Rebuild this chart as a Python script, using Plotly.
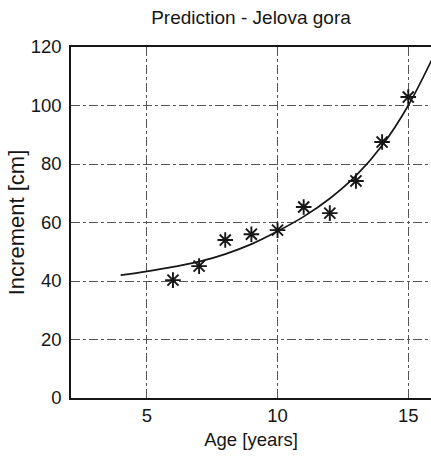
import plotly.graph_objects as go

# Measured increments by tree age
age = [6, 7, 8, 9, 10, 11, 12, 13, 14, 15]
increment = [40.3, 45.1, 54.0, 56.0, 57.4, 65.3, 63.2, 74.2, 87.5, 102.9]

# Predicted increment curve
pred_age = [4, 5, 6, 7, 8, 9, 10, 11, 12, 13, 14, 15, 16]
pred_increment = [42.0, 43.3, 44.8, 46.6, 49.2, 52.6, 57.0, 62.0, 68.2, 76.0, 86.3, 100.0, 117.5]

x_ticks = [5, 10, 15]
y_ticks = [0, 20, 40, 60, 80, 100, 120]

font_family = "Liberation Sans, Arial, sans-serif"
ink = "#161616"

fig = go.Figure()

fig.add_trace(go.Scatter(
    x=pred_age, y=pred_increment, mode="lines",
    line=dict(color=ink, width=1.7, shape="spline", smoothing=1.0),
    showlegend=False,
))

fig.add_trace(go.Scatter(
    x=age, y=increment, mode="markers",
    marker=dict(symbol="asterisk-open", size=13, color=ink,
                line=dict(color=ink, width=1.9)),
    showlegend=False,
))

fig.update_layout(
    width=431, height=458,
    margin=dict(l=71, r=0, t=47, b=60),
    paper_bgcolor="white", plot_bgcolor="white",
    font=dict(family=font_family, color=ink),
    title=dict(text="Prediction - Jelova gora", x=251 / 431, xanchor="center",
               y=1 - 17 / 458, yanchor="middle",
               font=dict(size=19, color=ink)),
    xaxis=dict(
        range=[2.1, 15.87], tickvals=x_ticks, ticks="",
        tickfont=dict(size=18.5, color=ink),
        title=dict(text="Age [years]", font=dict(size=18.5, color=ink), standoff=8),
        showline=True, linecolor=ink, linewidth=1.5, mirror=True,
        showgrid=True, gridcolor="#555", gridwidth=1, griddash="dashdot",
        zeroline=False,
    ),
    yaxis=dict(
        range=[0, 120], tickvals=y_ticks, ticks="",
        tickfont=dict(size=18.5, color=ink), ticklabelstandoff=4,
        title=dict(text="Increment [cm]", font=dict(size=22, color=ink), standoff=0),
        showline=True, linecolor=ink, linewidth=1.5,
        showgrid=True, gridcolor="#555", gridwidth=1, griddash="dashdot",
        zeroline=False,
    ),
)

fig.write_html("out.html")
